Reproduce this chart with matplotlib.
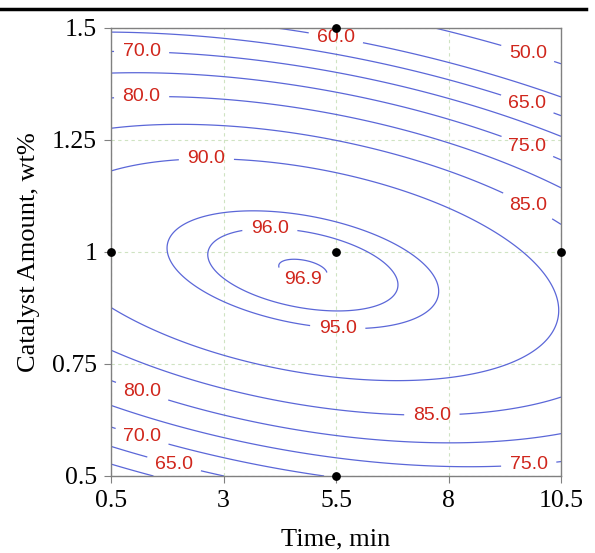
import numpy as np
import matplotlib.pyplot as plt
from matplotlib.lines import Line2D

# fitted quadratic model in coded units (x1 = time, x2 = catalyst)
b0 = 96.5
b_lin = [-2.66, -6.73]
b_sq = [-6.22, -32.8]
b_int = -10.47

time_ticks = [0.5, 3, 5.5, 8, 10.5]
time_labels = ["0.5", "3", "5.5", "8", "10.5"]
cat_ticks = [0.5, 0.75, 1, 1.25, 1.5]
cat_labels = ["0.5", "0.75", "1", "1.25", "1.5"]

levels = [50, 60, 65, 70, 75, 80, 85, 90, 95, 96, 96.9]

# design points shown as dots
design_time = [0.5, 5.5, 10.5, 5.5, 5.5]
design_cat = [1, 1, 1, 1.5, 0.5]

# where the contour labels sit
label_time = [5.5, 9.75, 1.18, 1.18, 2.62, 9.75, 9.75, 9.75, 4.03, 4.77, 5.54,
              1.2, 1.2, 1.91, 7.63, 9.78]
label_cat = [1.48, 1.44, 1.447, 1.347, 1.205, 1.33, 1.235, 1.101, 1.053, 0.939, 0.835,
             0.692, 0.592, 0.53, 0.638, 0.53]

line_col = "#5b67d8"
label_col = "#d0261c"
frame_col = "#808080"

t = np.linspace(0.5, 10.5, 400)
c = np.linspace(0.5, 1.5, 400)
T, C = np.meshgrid(t, c)
x1 = (T - 5.5) / 5
x2 = (C - 1) / 0.5
Y = (b0 + b_lin[0] * x1 + b_lin[1] * x2 + b_sq[0] * x1 ** 2 + b_sq[1] * x2 ** 2
     + b_int * x1 * x2)

fig = plt.figure(figsize=(5.95, 5.53), dpi=100)
ax = fig.add_axes([111 / 595, 1 - 476 / 553, 450 / 595, 448 / 553])

ax.grid(True, color="#cfe3c2", linestyle=(0, (3, 3)), linewidth=0.8)
ax.set_axisbelow(True)

cs = ax.contour(T, C, Y, levels=levels, colors=line_col, linewidths=0.9)
texts = ax.clabel(cs, fmt="%.1f", manual=list(zip(label_time, label_cat)),
                  inline=True, inline_spacing=6, fontsize=14, colors=label_col)
for tx in texts:
    tx.set_rotation(0)
    tx.set_family("Liberation Sans")

ax.scatter(design_time, design_cat, s=28, color="black", zorder=5, clip_on=False)

ax.set_xlim(0.5, 10.5)
ax.set_ylim(0.5, 1.5)
ax.set_xticks(time_ticks)
ax.set_xticklabels(time_labels)
ax.set_yticks(cat_ticks)
ax.set_yticklabels(cat_labels)
for lab in ax.get_xticklabels() + ax.get_yticklabels():
    lab.set_family("Liberation Serif")
    lab.set_fontsize(18.5)
ax.tick_params(direction="out", length=5, color=frame_col, pad=5)
for sp in ax.spines.values():
    sp.set_color(frame_col)
    sp.set_linewidth(1)

ax.set_xlabel("Time, min", family="Liberation Serif", fontsize=19, labelpad=12)
ax.set_ylabel("Catalyst Amount, wt%", family="Liberation Serif", fontsize=19, labelpad=9)

fig.add_artist(Line2D([0, 0.985], [1 - 9 / 553] * 2, color="black", lw=2.5,
                      transform=fig.transFigure))

fig.savefig("out.png", dpi=100)
